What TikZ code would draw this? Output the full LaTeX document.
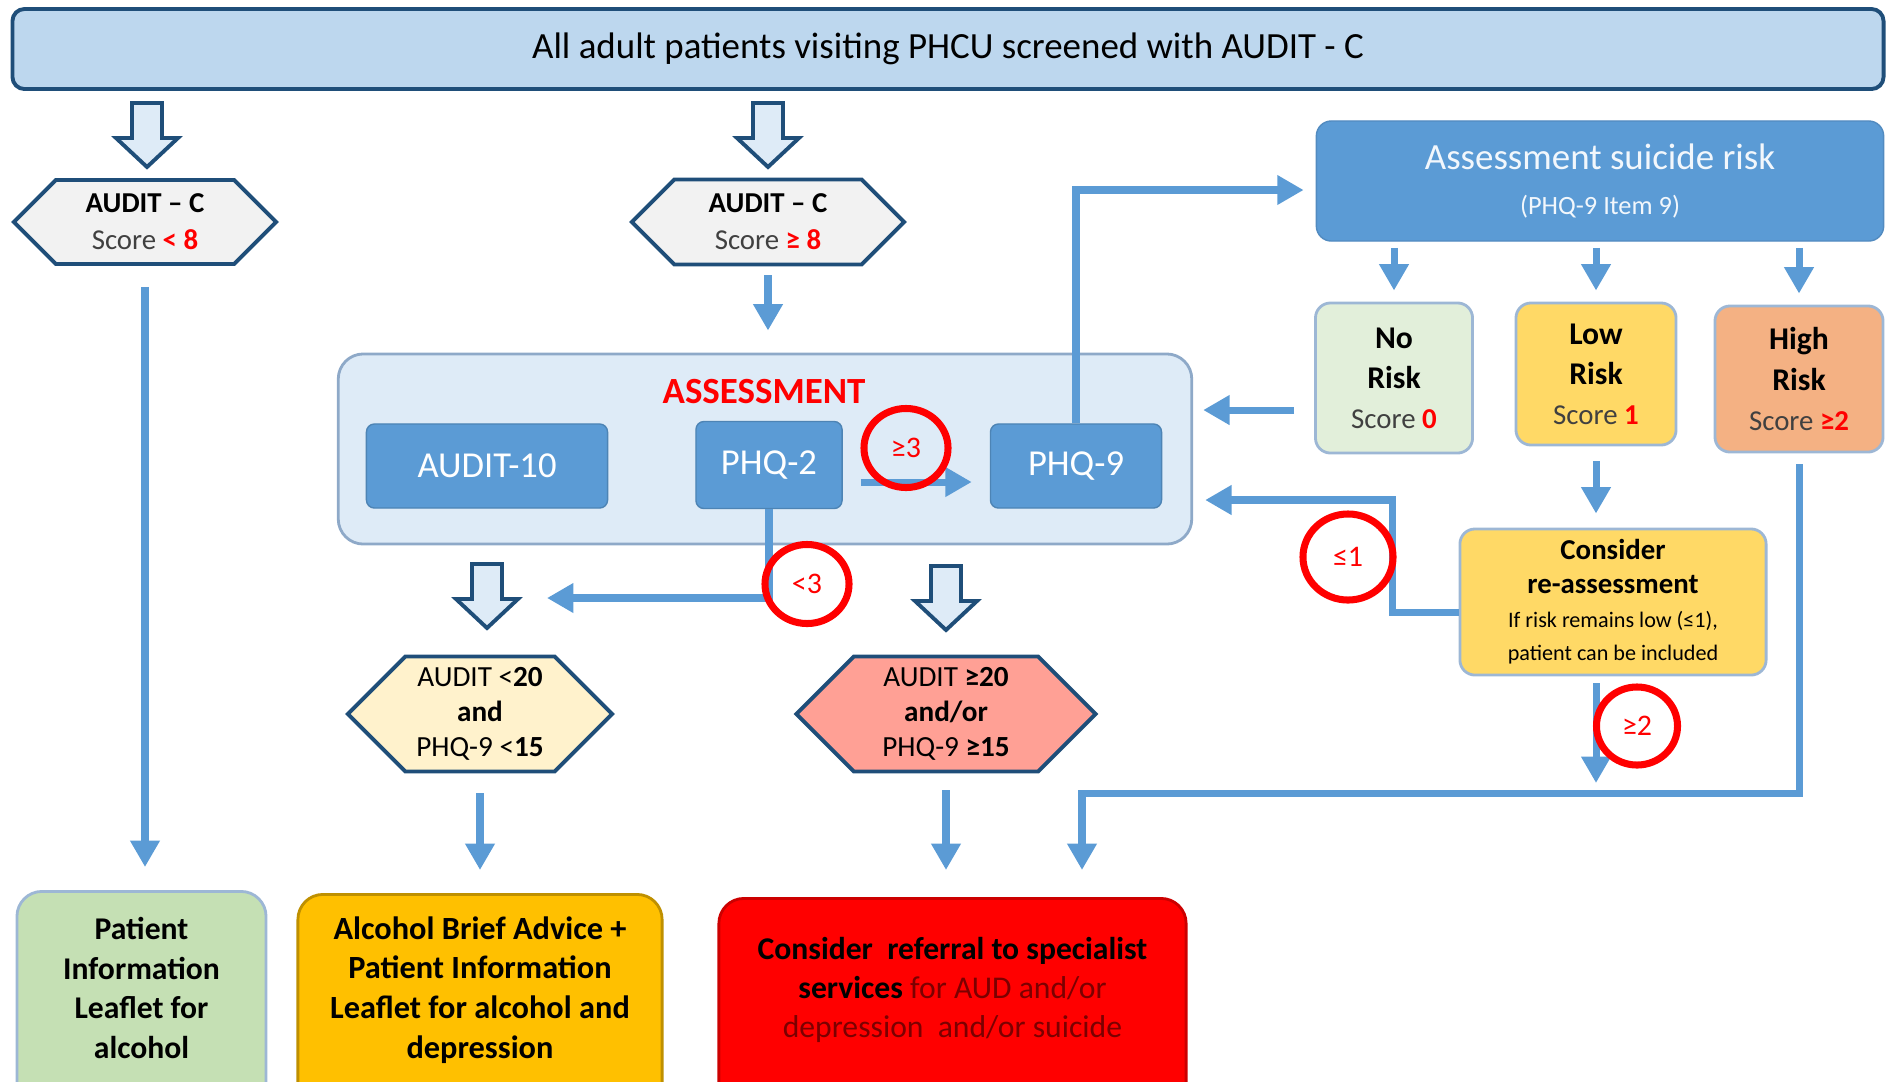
\documentclass[tikz,border=0pt]{standalone}
\usepackage{fontspec}
\setmainfont{Carlito}
\usetikzlibrary{arrows.meta,shapes.geometric,shapes.symbols}

\definecolor{darkblue}{HTML}{1F4E79}
\definecolor{titlefill}{HTML}{BDD7EE}
\definecolor{paleblue}{HTML}{DEEBF7}
\definecolor{hexgray}{HTML}{F2F2F2}
\definecolor{midblue}{HTML}{5B9BD5}
\definecolor{greyblue}{HTML}{9DB7D5}
\definecolor{nofill}{HTML}{E2EFDA}
\definecolor{lowfill}{HTML}{FFD966}
\definecolor{highfill}{HTML}{F4B183}
\definecolor{leafgreen}{HTML}{C5E0B4}
\definecolor{advicefill}{HTML}{FFC000}
\definecolor{creamhex}{HTML}{FFF2CC}
\definecolor{salmonhex}{HTML}{FFA095}
\definecolor{darkred}{HTML}{7B0000}
\definecolor{scoregray}{HTML}{404040}
\definecolor{boxline}{HTML}{8EA9C8}

\begin{document}
\begin{tikzpicture}[x=0.01cm,y=-0.01cm]
	\def\setfs#1#2{\fontsize{#1}{#2}\selectfont}
	\def\hollowarrow#1#2{\draw[hollow] (#1-15,#2) -- (#1+15,#2) -- (#1+15,#2+35) -- (#1+31,#2+35) -- (#1,#2+64) -- (#1-31,#2+35) -- (#1-15,#2+35) -- cycle;}
	\def\toprow{49}
	\def\hexrow{222}
	\def\boxrow{466}
	\def\riskrow{378}
	\def\lowhexrow{714}
	\def\floor{990}

	\tikzstyle{title}=[rectangle,rounded corners=0.12cm,fill=titlefill,draw=darkblue,line width=1.1pt,minimum width=18.7cm,minimum height=0.8cm]
	\tikzstyle{hollow}=[draw=darkblue,fill=paleblue,line width=1.1pt]
	\tikzstyle{hexa}=[signal,signal to=west and east,draw=darkblue,line width=1.1pt,inner sep=0pt,align=center]
	\tikzstyle{bluebox}=[rectangle,rounded corners=0.08cm,fill=midblue,draw=midblue!85!black,line width=0.4pt,text=white,inner sep=0pt,font=\setfs{10.4}{12}]
	\tikzstyle{riskbox}=[rectangle,rounded corners=0.15cm,draw=greyblue,line width=0.8pt,inner sep=0pt,align=center,font=\setfs{9}{11.4}\bfseries]
	\tikzstyle{leaf}=[rectangle,rounded corners=0.25cm,line width=0.8pt,anchor=north]
	\tikzstyle{leaftext}=[align=center,font=\setfs{9}{11.3}\bfseries]
	\tikzstyle{ring}=[ellipse,draw=red,line width=2pt,inner sep=0pt,text=red,minimum width=0.84cm,minimum height=0.79cm,font=\setfs{8.5}{10}]
	\tikzstyle{flow}=[draw=midblue,line width=2pt,-{Triangle[width=8pt,length=7.5pt]}]

	\useasboundingbox (0,0) rectangle (1894,1081);

	% screening
	\node[title,font=\setfs{10.5}{12}] (screen) at (948,\toprow) {All adult patients visiting PHCU screened with AUDIT - C};
	\hollowarrow{147}{103}
	\hollowarrow{768}{103}

	\node[hexa,fill=hexgray,minimum width=2.62cm,minimum height=0.84cm,font=\setfs{8.2}{10.5}] (hexL) at (145,\hexrow) {\textbf{AUDIT – C}\\\color{scoregray}Score \textcolor{red}{\textbf{< 8}}};
	\node[hexa,fill=hexgray,minimum width=2.72cm,minimum height=0.85cm,font=\setfs{8.2}{10.5}] (hexC) at (768,\hexrow) {\textbf{AUDIT – C}\\\color{scoregray}Score \textcolor{red}{\textbf{≥ 8}}};

	% assessment
	\node[rectangle,rounded corners=0.25cm,fill=paleblue,draw=boxline,line width=0.8pt,minimum width=8.53cm,minimum height=1.9cm] (assess) at (765,449) {};
	\node[text=red,font=\setfs{10.5}{12}\bfseries] (assesstitle) at (764,392) {ASSESSMENT};
	\node[bluebox,minimum width=2.41cm,minimum height=0.84cm] (auditten) at (487,\boxrow) {AUDIT-10};
	\node[bluebox,minimum width=1.46cm,minimum height=0.87cm] (phqtwo) at (769,465) {PHQ-2};
	\node[bluebox,minimum width=1.71cm,minimum height=0.84cm] (phqnine) at (1076,\boxrow) {PHQ-9};

	\hollowarrow{487}{564}
	\hollowarrow{946}{566}
	\coordinate (leftend) at (547,598);

	\node[hexa,fill=creamhex,minimum width=2.64cm,minimum height=1.15cm,font=\setfs{8.3}{10}] (hexBL) at (480,\lowhexrow) {AUDIT <\textbf{20}\\\textbf{and}\\PHQ-9 <\textbf{15}};
	\node[hexa,fill=salmonhex,minimum width=2.99cm,minimum height=1.15cm,font=\setfs{8.3}{10}] (hexBR) at (946,\lowhexrow) {AUDIT \textbf{≥20}\\\textbf{and/or}\\PHQ-9 \textbf{≥15}};

	% suicide risk
	\node[rectangle,rounded corners=0.15cm,fill=midblue,draw=midblue!90!black,line width=0.4pt,minimum width=5.67cm,minimum height=1.2cm,align=center,text=white!92!midblue,font=\setfs{10.5}{13}] (suicide) at (1600,181) {Assessment suicide risk\\\setfs{7.5}{10}(PHQ-9 Item 9)};
	\node[riskbox,fill=nofill,minimum width=1.57cm,minimum height=1.5cm] (norisk) at (1394,\riskrow) {No\\Risk\\\setfs{8.2}{11.4}\mdseries\color{scoregray}Score \textcolor{red}{\textbf{0}}};
	\node[riskbox,fill=lowfill,minimum width=1.6cm,minimum height=1.42cm] (lowrisk) at (1596,374) {Low\\Risk\\\setfs{8.2}{11.4}\mdseries\color{scoregray}Score \textcolor{red}{\textbf{1}}};
	\node[riskbox,fill=highfill,minimum width=1.68cm,minimum height=1.46cm] (highrisk) at (1799,379) {High\\Risk\\\setfs{8.2}{11.4}\mdseries\color{scoregray}Score \textcolor{red}{\textbf{≥2}}};
	\node[riskbox,fill=lowfill,minimum width=3.06cm,minimum height=1.46cm,font=\setfs{8.2}{9.6}\bfseries] (reass) at (1613,602) {Consider\\re-assessment\\\setfs{6.3}{8.6}\mdseries If risk remains low (≤1),\\\setfs{6.3}{8.6}\mdseries patient can be included};
	\coordinate (kneeA) at (1392,500);
	\coordinate (kneeB) at (1082,793);

	% outcomes
	\node[leaf,fill=leafgreen,draw=greyblue,minimum width=2.49cm,minimum height=2.6cm] (leafA) at (141.5,890) {};
	\node[leaf,fill=advicefill,draw=advicefill!75!black,minimum width=3.64cm,minimum height=2.6cm] (advice) at (480,893) {};
	\node[leaf,fill=red,draw=red!80!black,minimum width=4.67cm,minimum height=2.6cm] (referral) at (952.5,897) {};
	\node[leaftext] (leafAtext) at (141.5,988) {Patient\\Information\\Leaflet for\\alcohol};
	\node[leaftext,font=\setfs{9.2}{11.3}\bfseries] (advicetext) at (480,\floor) {Alcohol Brief Advice +\\Patient Information\\Leaflet for alcohol and\\depression};
	\node[leaftext,font=\setfs{9}{11.1}] (referraltext) at (952.5,\floor) {\textbf{Consider\ \ referral to specialist}\\\textbf{services} \textcolor{darkred}{for AUD and/or}\\\textcolor{darkred}{depression\ \ and/or suicide}};

	% connectors
	\draw[flow,shorten <=0.21cm,shorten >=0.23cm] (hexL.south) -- (hexL.south |- leafA.north);
	\draw[flow,shorten <=0.09cm,shorten >=0.22cm] (hexC.south) -- (hexC.south |- assess.north);
	\draw[flow,shorten <=0.18cm,shorten >=0.18cm] ([yshift=-0.17cm]phqtwo.east) -- ([yshift=-0.17cm]phqtwo.east -| phqnine.west);
	\draw[flow] (phqtwo.south) |- (leftend);
	\draw[flow,shorten >=0.12cm] (phqnine.north) |- ([yshift=-0.09cm]suicide.west);
	\foreach \r in {norisk,lowrisk,highrisk}
		\draw[flow,shorten <=0.06cm,shorten >=0.11cm] (suicide.south -| \r.north) -- (\r.north);
	\draw[flow,shorten <=0.2cm,shorten >=0.1cm] ([yshift=-0.32cm]norisk.west) -- ([yshift=-0.32cm]norisk.west -| assess.east);
	\draw[flow,shorten <=0.15cm,shorten >=0.14cm] (lowrisk.south) -- (lowrisk.south |- reass.north);
	\draw[flow,shorten >=0.12cm] ([yshift=-0.1cm]reass.west) -| (kneeA) -- (kneeA -| assess.east);
	\draw[flow,shorten <=0.07cm,shorten >=0.1cm] (reass.south -| lowrisk.south) -- (lowrisk.south |- kneeB);
	\draw[flow,shorten <=0.11cm,shorten >=0.27cm] (highrisk.south) |- (kneeB) -- (kneeB |- referral.north);
	\draw[flow,shorten <=0.2cm,shorten >=0.23cm] (hexBL.south) -- (hexBL.south |- advice.north);
	\draw[flow,shorten <=0.17cm,shorten >=0.27cm] (hexBR.south) -- (hexBR.south |- referral.north);

	% cut-off marks
	\node[ring] (geqthree) at (906,448) {≥3};
	\node[ring] (ltthree) at (807,584) {<3};
	\node[ring,minimum width=0.9cm,minimum height=0.86cm] (leqone) at (1348,557) {≤1};
	\node[ring,minimum width=0.81cm,minimum height=0.78cm] (geqtwo) at (1637,726) {≥2};
\end{tikzpicture}
\end{document}
